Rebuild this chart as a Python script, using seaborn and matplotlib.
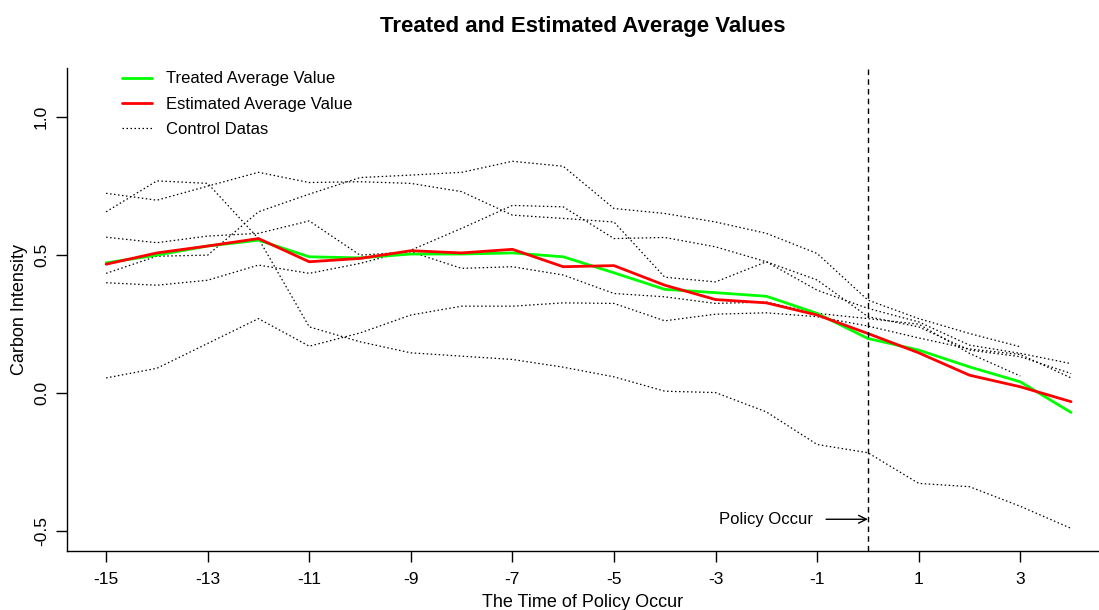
import numpy as np
import matplotlib
matplotlib.use("Agg")
import matplotlib.pyplot as plt
from matplotlib.lines import Line2D
import seaborn as sns

nan = np.nan
time = list(range(-15, 5))
treated = [0.472, 0.500, 0.533, 0.554, 0.494, 0.490, 0.504, 0.504, 0.508, 0.494,
           0.436, 0.376, 0.364, 0.351, 0.289, 0.198, 0.156, 0.095, 0.041, -0.070]
estimated = [0.467, 0.508, 0.533, 0.560, 0.476, 0.488, 0.516, 0.508, 0.521, 0.458,
             0.462, 0.391, 0.339, 0.327, 0.283, 0.216, 0.146, 0.065, 0.023, -0.031]
control_a = [0.724, 0.699, 0.750, 0.800, 0.763, 0.766, 0.760, 0.730, 0.645, 0.633,
             0.620, 0.420, 0.403, 0.476, 0.373, 0.307, 0.258, 0.174, 0.144, 0.107]
control_b = [0.657, 0.769, 0.760, 0.560, 0.240, 0.186, 0.146, 0.134, 0.122, 0.094,
             0.059, 0.007, 0.002, -0.068, -0.186, -0.216, -0.327, -0.339, -0.410, -0.490]
control_c = [0.434, 0.496, 0.500, 0.657, 0.721, 0.781, 0.790, 0.800, 0.840, 0.822,
             0.669, 0.651, 0.620, 0.579, 0.506, 0.337, 0.270, 0.216, 0.168, nan]
control_d = [0.565, 0.545, 0.569, 0.579, 0.624, 0.500, 0.512, 0.452, 0.458, 0.428,
             0.361, 0.349, 0.325, 0.330, 0.289, 0.270, 0.250, 0.144, 0.062, nan]
control_e = [0.400, 0.391, 0.409, 0.464, 0.434, 0.470, 0.518, 0.597, 0.680, 0.675,
             0.560, 0.564, 0.530, 0.476, 0.410, 0.277, 0.240, 0.156, 0.132, 0.071]
control_f = [0.055, 0.090, 0.180, 0.270, 0.170, 0.218, 0.283, 0.315, 0.315, 0.327,
             0.325, 0.262, 0.286, 0.291, 0.277, 0.243, 0.200, 0.160, 0.140, 0.055]
controls = [control_a, control_b, control_c, control_d, control_e, control_f]
xticks = [-15, -13, -11, -9, -7, -5, -3, -1, 1, 3]
yticks = [-0.5, 0.0, 0.5, 1.0]

sns.set_style("white")
plt.rcParams['font.family'] = ['Liberation Sans', 'DejaVu Sans']
plt.rcParams['text.color'] = 'black'
plt.rcParams['axes.labelcolor'] = 'black'

W, H = 1099, 610
fig = plt.figure(figsize=(W / 100, H / 100), dpi=100)
left, right, top, bottom = 67, 1099, 68, 551
ax = fig.add_axes([left / W, (H - bottom) / H, (right - left) / W, (bottom - top) / H])

dot = (0, (1.2, 2.0))
for vals in controls:
    sns.lineplot(x=time, y=vals, ax=ax, color='black', linewidth=0.9,
                 linestyle=dot, estimator=None)
sns.lineplot(x=time, y=treated, ax=ax, color='#00FF00', linewidth=2.0, estimator=None)
sns.lineplot(x=time, y=estimated, ax=ax, color='#FF0000', linewidth=2.0, estimator=None)

ax.axvline(0, color='black', linestyle=(0, (4, 3)), linewidth=1.0)
ax.annotate('Policy Occur', xy=(0, -0.457), xytext=(-1.08, -0.457),
            fontsize=12, ha='right', va='center', color='black',
            arrowprops=dict(arrowstyle='->', color='black', lw=1.0,
                            shrinkA=7, shrinkB=0, mutation_scale=14))

ax.set_xlim(-15.77, 4.55)
ax.set_ylim(-0.572, 1.178)
ax.set_xticks(xticks)
ax.set_xticklabels([str(t) for t in xticks])
ax.set_yticks(yticks)
ax.set_yticklabels(['-0.5', '0.0', '0.5', '1.0'], rotation=90, va='center')
ax.tick_params(axis='both', direction='out', length=8, width=1, colors='black',
               labelsize=12.5, bottom=True, left=True)
ax.tick_params(axis='x', pad=7)
ax.tick_params(axis='y', pad=5)

for s in ['top', 'right']:
    ax.spines[s].set_visible(False)
for s in ['left', 'bottom']:
    ax.spines[s].set_color('black')
    ax.spines[s].set_linewidth(1.0)

ax.set_xlabel('The Time of Policy Occur', fontsize=13, labelpad=5)
ax.set_ylabel('Carbon Intensity', fontsize=13, labelpad=4)
ax.set_title('Treated and Estimated Average Values', fontsize=16,
             fontweight='bold', pad=26, color='black')

handles = [Line2D([], [], color='#00FF00', lw=2.0),
           Line2D([], [], color='#FF0000', lw=2.0),
           Line2D([], [], color='black', lw=0.9, linestyle=dot)]
ax.legend(handles, ['Treated Average Value', 'Estimated Average Value', 'Control Datas'],
          loc='upper left', bbox_to_anchor=(0.053, 0.993), frameon=False, fontsize=12,
          handlelength=1.8, handletextpad=0.85, labelspacing=0.62, borderpad=0,
          borderaxespad=0)

fig.savefig('out.png', dpi=100)
